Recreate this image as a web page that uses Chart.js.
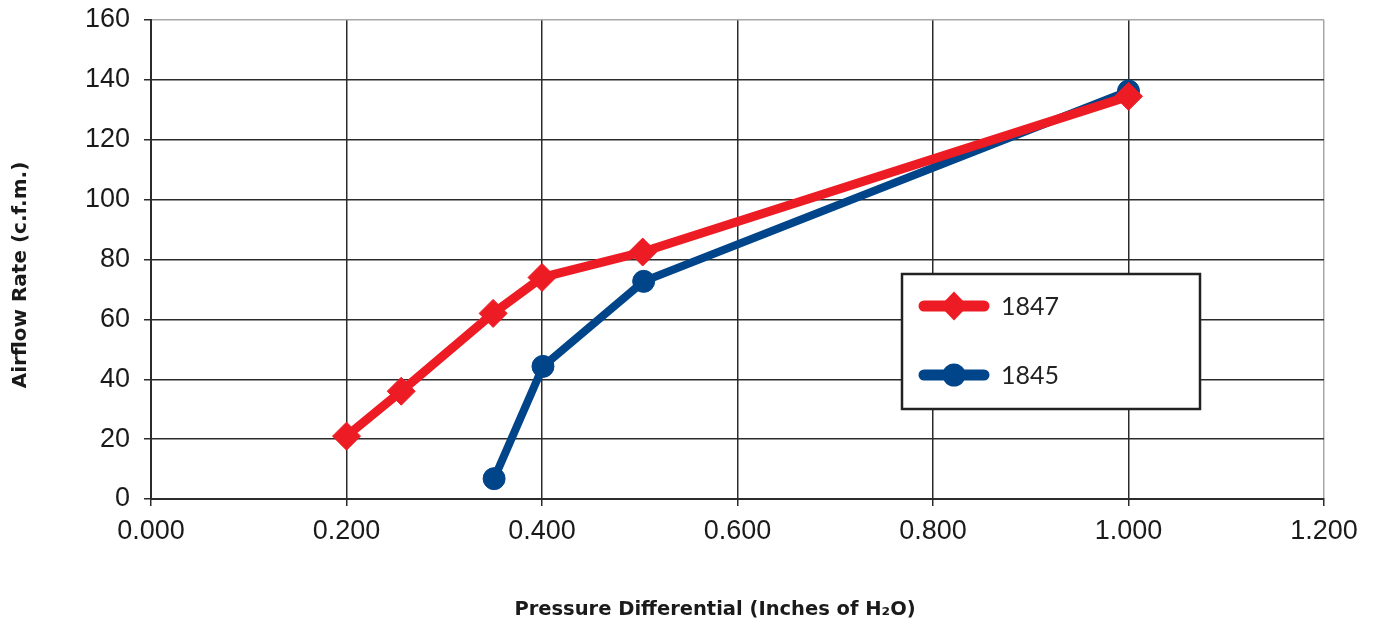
<!DOCTYPE html>
<html>
<head>
<meta charset="utf-8">
<script src="https://cdn.jsdelivr.net/npm/chart.js@4"></script>
<style>
  html, body { margin: 0; padding: 0; background: #fff; }
  #wrap { width: 1373px; height: 626px; }
</style>
</head>
<body>
<div id="wrap"><canvas id="c" width="1373" height="626"></canvas></div>
<script>
const seriesNames = ['1847', '1845'];
const x1847 = [0.200, 0.256, 0.350, 0.400, 0.503, 1.000];
const y1847 = [21, 36, 62, 74, 82.5, 134.5];
const x1845 = [0.351, 0.401, 0.504, 1.000];
const y1845 = [6.8, 44.3, 72.7, 136.3];
const xTicksMin = 0, xTicksMax = 1.2, xStep = 0.2;
const yTicksMin = 0, yTicksMax = 160, yStep = 20;
const xTitle = 'Pressure Differential (Inches of H\u2082O)';
const yTitle = 'Airflow Rate (c.f.m.)';

const RED = '#ED1C24';
const BLUE = '#00458A';
const GRID = '#2b2b2b';
const EDGE = '#a8a8a8';

function pts(xs, ys) { return xs.map((x, i) => ({ x: x, y: ys[i] })); }

const titlesPlugin = {
  id: 'titles',
  afterDraw(chart) {
    const ctx = chart.ctx;
    ctx.save();
    ctx.fillStyle = '#1a1a1a';
    ctx.font = 'bold 19.5px "DejaVu Sans"';
    ctx.textAlign = 'center';
    ctx.textBaseline = 'middle';
    ctx.fillText(xTitle, 715, 610);
    ctx.font = 'bold 20px "DejaVu Sans"';
    ctx.translate(21, 275);
    ctx.rotate(-Math.PI / 2);
    ctx.fillText(yTitle, 0, 0);
    ctx.restore();
  }
};

const legendPlugin = {
  id: 'boxLegend',
  afterDraw(chart) {
    const ctx = chart.ctx;
    const box = { x: 902, y: 274, w: 298, h: 135 };
    ctx.save();
    ctx.fillStyle = '#fff';
    ctx.fillRect(box.x, box.y, box.w, box.h);
    ctx.lineWidth = 2.5;
    ctx.strokeStyle = '#222';
    ctx.strokeRect(box.x, box.y, box.w, box.h);
    const ds = chart.data.datasets;
    const rows = [306, 375];
    ds.forEach((d, i) => {
      const yy = rows[i];
      ctx.strokeStyle = d.borderColor;
      ctx.lineWidth = 11;
      ctx.lineCap = 'round';
      ctx.beginPath();
      ctx.moveTo(924, yy);
      ctx.lineTo(984, yy);
      ctx.stroke();
      ctx.fillStyle = d.borderColor;
      ctx.beginPath();
      if (d.pointStyle === 'rectRot') {
        ctx.moveTo(954, yy - 14.5);
        ctx.lineTo(968, yy);
        ctx.lineTo(954, yy + 14.5);
        ctx.lineTo(940, yy);
        ctx.closePath();
      } else {
        ctx.arc(954, yy, 11.5, 0, Math.PI * 2);
      }
      ctx.fill();
      ctx.fillStyle = '#222';
      ctx.font = '25px Lato';
      ctx.textAlign = 'left';
      ctx.textBaseline = 'middle';
      ctx.fillText(d.label, 1001, yy + 1);
    });
    ctx.restore();
  }
};

new Chart(document.getElementById('c'), {
  type: 'scatter',
  data: {
    datasets: [
      {
        label: seriesNames[0],
        data: pts(x1847, y1847),
        showLine: true,
        borderColor: RED,
        backgroundColor: RED,
        borderWidth: 9,
        pointStyle: 'rectRot',
        pointRadius: 14,
        pointBorderWidth: 1,
        pointBackgroundColor: RED,
        pointBorderColor: RED,
        order: 1
      },
      {
        label: seriesNames[1],
        data: pts(x1845, y1845),
        showLine: true,
        borderColor: BLUE,
        backgroundColor: BLUE,
        borderWidth: 8,
        pointStyle: 'circle',
        pointRadius: 11,
        pointBorderWidth: 1,
        pointBackgroundColor: BLUE,
        pointBorderColor: BLUE,
        order: 2
      }
    ]
  },
  options: {
    responsive: false,
    animation: false,
    devicePixelRatio: 1,
    layout: { padding: { top: 20, right: 49, left: 0, bottom: 0 } },
    plugins: { legend: { display: false }, tooltip: { enabled: false } },
    scales: {
      x: {
        type: 'linear',
        min: xTicksMin, max: xTicksMax,
        afterFit(s) { s.height = 127; s.paddingLeft = 0; s.paddingRight = 0; },
        ticks: {
          stepSize: xStep,
          color: '#1a1a1a',
          font: { family: 'Liberation Sans', size: 27 },
          padding: 9,
          maxRotation: 0,
          callback: v => Number(v).toFixed(3)
        },
        grid: {
          color: ctx => (Math.abs(ctx.tick.value - xTicksMax) < 1e-9 ? EDGE : GRID),
          lineWidth: 1.5,
          tickLength: 7,
          tickColor: GRID
        },
        border: { color: GRID, width: 2 }
      },
      y: {
        type: 'linear',
        min: yTicksMin, max: yTicksMax,
        afterFit(s) { s.width = 151; s.paddingTop = 0; s.paddingBottom = 0; },
        ticks: {
          stepSize: yStep,
          color: '#1a1a1a',
          font: { family: 'Liberation Sans', size: 27 },
          padding: 14
        },
        grid: {
          color: ctx => (ctx.tick.value === yTicksMax ? EDGE : GRID),
          lineWidth: 1.5,
          tickLength: 7,
          tickColor: GRID
        },
        border: { color: GRID, width: 2 }
      }
    }
  },
  plugins: [titlesPlugin, legendPlugin]
});
</script>
</body>
</html>
